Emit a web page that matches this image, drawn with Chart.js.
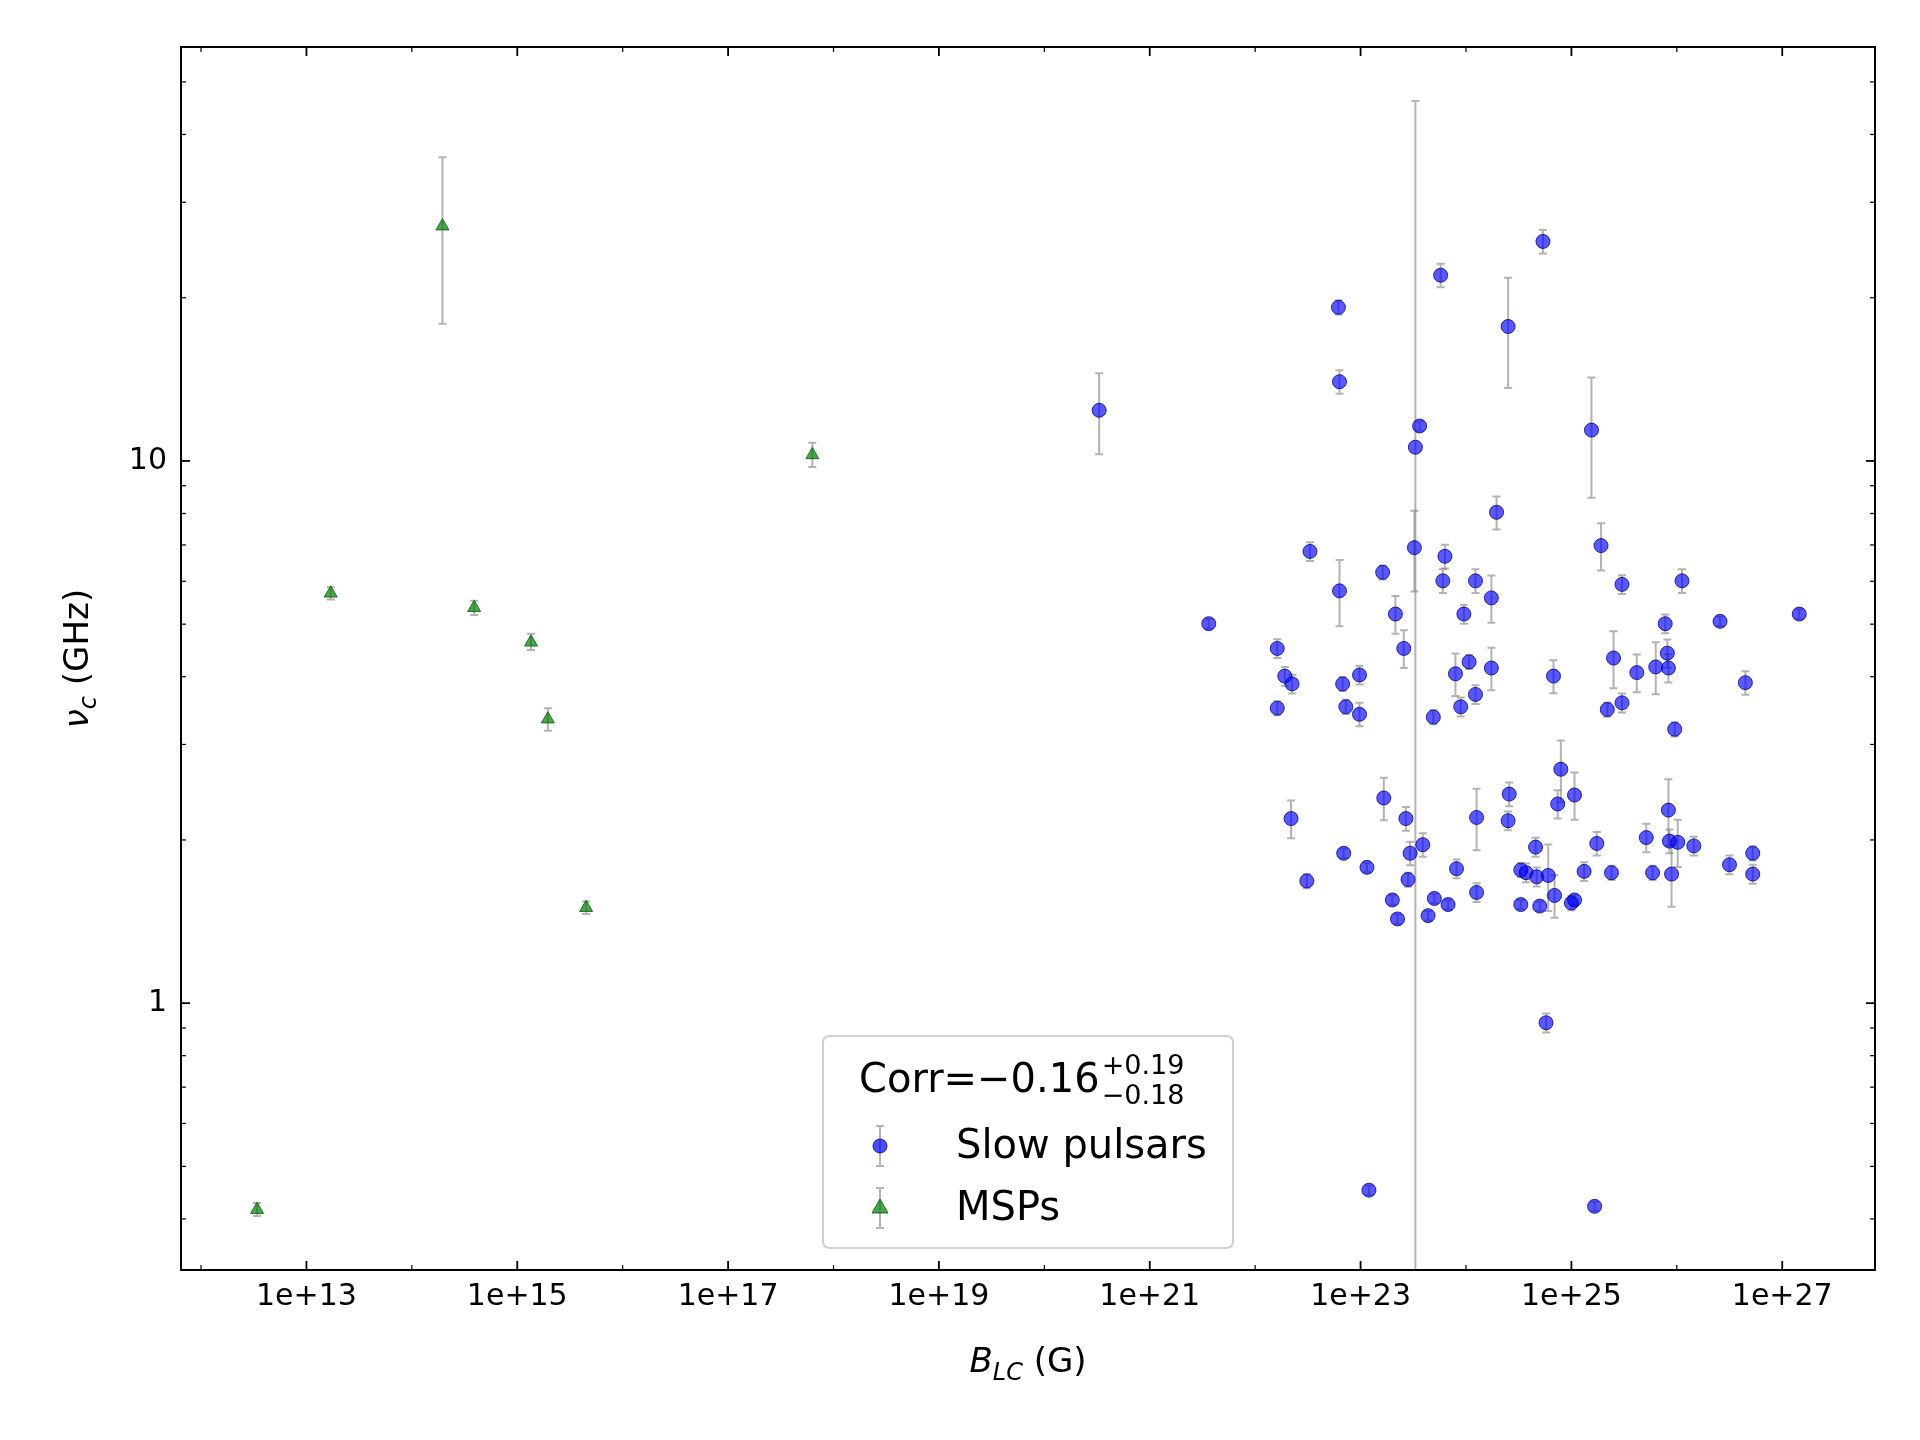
<!DOCTYPE html>
<html><head><meta charset="utf-8">
<script src="https://cdn.jsdelivr.net/npm/chart.js@4"></script>
<style>html,body{margin:0;background:#fff}#w{width:1920px;height:1440px}</style>
</head><body><div id="w"><canvas id="c" width="1920" height="1440"></canvas></div>
<script>
// MSPs
const mspB = [3.4e12, 1.7e13, 1.95e14, 3.9e14, 1.35e15, 1.95e15, 4.5e15, 6.3e17];
const mspNu = [0.416, 5.70, 27.1, 5.36, 4.63, 3.34, 1.50, 10.26];
const mspLo = [0.405, 5.55, 17.9, 5.20, 4.48, 3.18, 1.46, 9.75];
const mspHi = [0.428, 5.85, 36.3, 5.52, 4.80, 3.50, 1.54, 10.8];
// Slow pulsars
const slowB = [3.63e21,3.31e20,1.62e22,1.62e22,1.91e22,2.24e22,2.19e22,3.09e22,3.31e22,6.17e22,
 6.31e22,6.31e22,6.76e22,7.24e22,6.92e22,9.77e22,9.77e22,1.15e23,1.20e23,1.62e23,
 1.66e23,2.0e23,2.14e23,2.24e23,2.57e23,2.69e23,2.82e23,2.95e23,3.24e23,3.31e23,
 3.63e23,3.89e23,4.37e23,4.90e23,5.01e23,5.75e23,6.03e23,6.31e23,6.76e23,7.94e23,
 8.13e23,8.91e23,9.55e23,1.07e24,1.23e24,1.23e24,1.26e24,1.26e24,1.74e24,1.74e24,
 1.95e24,2.51e24,2.51e24,2.57e24,3.31e24,3.31e24,3.72e24,4.57e24,4.68e24,5.01e24,
 5.37e24,5.75e24,6.03e24,6.76e24,6.92e24,7.41e24,7.94e24,1.0e25,1.07e25,1.07e25,
 1.32e25,1.55e25,1.66e25,1.74e25,1.91e25,2.19e25,2.40e25,2.51e25,3.02e25,3.02e25,
 4.17e25,5.13e25,5.89e25,6.31e25,7.76e25,8.32e25,8.13e25,8.32e25,8.51e25,8.91e25,
 9.55e25,1.02e26,1.12e26,1.45e26,2.57e26,3.16e26,4.47e26,5.25e26,5.25e26,1.45e27];
const slowNu = [5.01,12.4,4.51,3.50,4.01,3.88,2.19,1.68,6.81,19.2,
 14.0,5.76,3.88,3.52,1.89,4.03,3.41,1.78,0.452,6.23,
 2.39,1.55,5.22,1.43,4.51,2.19,1.69,1.89,6.92,10.6,
 11.6,1.96,1.45,3.37,1.56,22.0,6.01,6.67,1.52,4.05,
 1.77,3.52,5.22,4.26,3.71,6.01,2.20,1.60,5.59,4.15,
 8.04,17.7,2.17,2.43,1.52,1.76,1.74,1.94,1.71,1.51,
 25.4,0.92,1.72,4.01,1.58,2.33,2.70,1.53,1.55,2.42,
 1.75,11.4,0.422,1.97,6.98,3.48,1.74,4.33,5.92,3.58,
 4.07,2.02,1.74,4.17,5.01,2.27,4.42,4.15,1.99,1.73,
 3.20,1.98,6.01,1.95,5.06,1.80,3.90,1.89,1.73,5.22];
const slowErr = [0.02,0.17,0.04,0.03,0.04,0.04,0.08,0.03,0.04,0.03,
 0.05,0.14,0.03,0.03,0.02,0.04,0.05,0.02,0.02,0.03,
 0.09,0.02,0.08,0.02,0.08,0.05,0.03,0.05,0.17,0.03,
 0.02,0.05,0.02,0.03,0.02,0.05,0.05,0.05,0.02,0.09,
 0.04,0.04,0.04,0.03,0.04,0.05,0.13,0.04,0.10,0.09,
 0.07,0.23,0.04,0.05,0.02,0.03,0.04,0.04,0.04,0.02,
 0.05,0.04,0.14,0.07,0.09,0.06,0.13,0.03,0.02,0.10,
 0.04,0.25,0.02,0.05,0.10,0.03,0.03,0.12,0.04,0.04,
 0.08,0.06,0.03,0.11,0.04,0.14,0.06,0.06,0.05,0.13,
 0.03,0.10,0.05,0.04,0.02,0.04,0.05,0.03,0.04,0.02];
const bigErrIdx = 29, bigErrLo = 0.2, bigErrHi = 46.1;
const xTickExp = [12,13,14,15,16,17,18,19,20,21,22,23,24,25,26,27];
const yMajor = [1, 10];
const yMinor = [0.4,0.5,0.6,0.7,0.8,0.9,2,3,4,5,6,7,8,9,20,30,40,50];

const slowData = slowB.map((b,i)=>{
  let lo = slowNu[i]*(1-slowErr[i]), hi = slowNu[i]*(1+slowErr[i]);
  if(i===bigErrIdx){lo=bigErrLo;hi=bigErrHi;}
  return {x:b,y:slowNu[i],lo,hi};
});
const mspData = mspB.map((b,i)=>({x:b,y:mspNu[i],lo:mspLo[i],hi:mspHi[i]}));

const F = 'DejaVu Sans';
const errPlugin = {
  id:'err',
  beforeDatasetsDraw(ch){
    const ctx=ch.ctx, xs=ch.scales.x, ys=ch.scales.y, a=ch.chartArea;
    ctx.save();
    ctx.beginPath(); ctx.rect(a.left,a.top,a.right-a.left,a.bottom-a.top); ctx.clip();
    ctx.strokeStyle='rgba(128,128,128,0.6)'; ctx.lineWidth=2;
    ch.data.datasets.forEach(ds=>ds.data.forEach(p=>{
      const x=xs.getPixelForValue(p.x), y1=ys.getPixelForValue(p.lo), y2=ys.getPixelForValue(p.hi);
      ctx.beginPath(); ctx.moveTo(x,y1); ctx.lineTo(x,y2);
      ctx.moveTo(x-4,y1); ctx.lineTo(x+4,y1); ctx.moveTo(x-4,y2); ctx.lineTo(x+4,y2); ctx.stroke();
    }));
    ctx.restore();
  },
  afterDraw(ch){
    const ctx=ch.ctx, xs=ch.scales.x, ys=ch.scales.y, a=ch.chartArea;
    ctx.save();
    ctx.strokeStyle='#000'; ctx.lineWidth=2;
    ctx.strokeRect(a.left,a.top,a.right-a.left,a.bottom-a.top);
    const tk=(x1,y1,x2,y2)=>{ctx.beginPath();ctx.moveTo(x1,y1);ctx.lineTo(x2,y2);ctx.stroke();};
    xTickExp.forEach(e=>{
      const x=xs.getPixelForValue(Math.pow(10,e)); if(x<a.left||x>a.right) return;
      const L = (e%2===1)?9:5; ctx.lineWidth=(e%2===1)?1.8:1.2;
      tk(x,a.bottom,x,a.bottom-L); tk(x,a.top,x,a.top+L);
    });
    [[yMajor,9,1.8],[yMinor,5,1.2]].forEach(([arr,L,w])=>arr.forEach(v=>{
      const y=ys.getPixelForValue(v); if(y<a.top||y>a.bottom) return;
      ctx.lineWidth=w; tk(a.left,y,a.left+L,y); tk(a.right,y,a.right-L,y);
    }));
    ctx.fillStyle='#000'; ctx.font='30px '+F;
    ctx.textAlign='center'; ctx.textBaseline='top';
    xTickExp.filter(e=>e%2===1).forEach(e=>ctx.fillText('1e+'+e, xs.getPixelForValue(Math.pow(10,e)), a.bottom+12));
    ctx.textAlign='right'; ctx.textBaseline='middle';
    yMajor.forEach(v=>ctx.fillText(String(v), a.left-14, ys.getPixelForValue(v)));
    const cx=(a.left+a.right)/2;
    ctx.textBaseline='alphabetic'; ctx.textAlign='left';
    let parts=[['B','italic 34px '+F,0],['LC','italic 24px '+F,8],[' (G)','34px '+F,0]];
    let w=0; parts.forEach(p=>{ctx.font=p[1];w+=ctx.measureText(p[0]).width;});
    let x0=cx-w/2, yb=1372;
    parts.forEach(p=>{ctx.font=p[1];ctx.fillText(p[0],x0,yb+p[2]);x0+=ctx.measureText(p[0]).width;});
    ctx.save(); ctx.translate(88,(a.top+a.bottom)/2); ctx.rotate(-Math.PI/2);
    parts=[['ν','italic 34px '+F,0],['c','italic 24px '+F,8],[' (GHz)','34px '+F,0]];
    w=0; parts.forEach(p=>{ctx.font=p[1];w+=ctx.measureText(p[0]).width;});
    x0=-w/2; parts.forEach(p=>{ctx.font=p[1];ctx.fillText(p[0],x0,p[2]);x0+=ctx.measureText(p[0]).width;});
    ctx.restore();
    // legend
    const lx=823, ly=1036, lw=410, lh=212;
    ctx.fillStyle='rgba(255,255,255,0.8)'; ctx.strokeStyle='#d0d0d0'; ctx.lineWidth=2;
    ctx.beginPath(); ctx.roundRect(lx,ly,lw,lh,6); ctx.fill(); ctx.stroke();
    ctx.fillStyle='#000'; ctx.font='40px '+F; ctx.textBaseline='alphabetic';
    const t='Corr=−0.16'; ctx.fillText(t,lx+36,ly+56);
    const tw=ctx.measureText(t).width; ctx.font='27px '+F;
    ctx.fillText('+0.19',lx+36+tw+2,ly+38); ctx.fillText('−0.18',lx+36+tw+2,ly+68);
    const ent=[[ly+110,'Slow pulsars','c'],[ly+172,'MSPs','t']];
    ent.forEach(([y,lab,m])=>{
      const mx=lx+57;
      ctx.strokeStyle='rgba(128,128,128,0.6)'; ctx.lineWidth=2;
      ctx.beginPath(); ctx.moveTo(mx,y-20); ctx.lineTo(mx,y+20);
      ctx.moveTo(mx-4,y-20); ctx.lineTo(mx+4,y-20); ctx.moveTo(mx-4,y+20); ctx.lineTo(mx+4,y+20); ctx.stroke();
      ctx.beginPath();
      if(m==='c'){ctx.arc(mx,y,7,0,2*Math.PI);ctx.fillStyle='rgba(0,0,255,0.7)';ctx.strokeStyle='rgba(0,0,150,0.8)';}
      else{ctx.moveTo(mx,y-9);ctx.lineTo(mx+8,y+5);ctx.lineTo(mx-8,y+5);ctx.closePath();ctx.fillStyle='rgba(0,128,0,0.7)';ctx.strokeStyle='rgba(0,90,0,0.8)';}
      ctx.lineWidth=1; ctx.fill(); ctx.stroke();
      ctx.fillStyle='#000'; ctx.font='40px '+F; ctx.textBaseline='middle';
      ctx.fillText(lab,lx+133,y+2);
    });
    ctx.restore();
  }
};

new Chart(document.getElementById('c'),{
  type:'scatter',
  data:{datasets:[
    {label:'Slow pulsars',data:slowData,pointStyle:'circle',pointRadius:7,backgroundColor:'rgba(0,0,255,0.65)',borderColor:'rgba(0,0,150,0.8)',borderWidth:1},
    {label:'MSPs',data:mspData,pointStyle:'triangle',pointRadius:7.5,backgroundColor:'rgba(0,128,0,0.7)',borderColor:'rgba(0,90,0,0.8)',borderWidth:1}
  ]},
  options:{
    responsive:false,animation:false,
    layout:{padding:{top:47,right:45,left:0,bottom:0}},
    plugins:{legend:{display:false},tooltip:{enabled:false}},
    scales:{
      x:{type:'logarithmic',bounds:'data',min:Math.pow(10,11.81),max:Math.pow(10,27.88),
        grid:{display:false},border:{display:false},ticks:{display:false},
        afterFit(s){s.height=170;}},
      y:{type:'logarithmic',bounds:'data',min:0.322,max:58,
        grid:{display:false},border:{display:false},ticks:{display:false},
        afterFit(s){s.width=181;}}
    }
  },
  plugins:[errPlugin]
});
</script></body></html>
